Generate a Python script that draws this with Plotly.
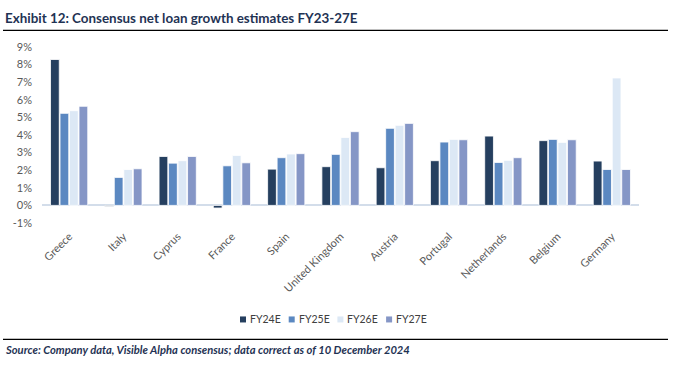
import plotly.graph_objects as go

countries = ["Greece", "Italy", "Cyprus", "France", "Spain", "United Kingdom",
             "Austria", "Portugal", "Netherlands", "Belgium", "Germany"]
fy24 = [8.29, -0.05, 2.78, -0.15, 2.06, 2.20, 2.14, 2.54, 3.94, 3.68, 2.52]
fy25 = [5.23, 1.59, 2.40, 2.25, 2.71, 2.90, 4.38, 3.60, 2.44, 3.75, 2.04]
fy26 = [5.38, 2.04, 2.54, 2.84, 2.92, 3.86, 4.55, 3.75, 2.56, 3.58, 7.24]
fy27 = [5.63, 2.08, 2.78, 2.42, 2.94, 4.19, 4.66, 3.73, 2.71, 3.73, 2.04]
series_names = ["FY24E", "FY25E", "FY26E", "FY27E"]
colors = ["#253F5F", "#5B88C1", "#DCE8F5", "#8596C6"]
y_ticks = list(range(-1, 10))

W, H = 685, 369
L, R, T, B = 42, 46, 46.7, 146.4
ph = H - T - B
pw = W - L - R

def px_y(y):
    return (H - B - y) / ph

def px_x(x):
    return (x - L) / pw

fig = go.Figure()
for name, vals, c in zip(series_names, [fy24, fy25, fy26, fy27], colors):
    fig.add_trace(go.Bar(x=countries, y=vals, name=name, showlegend=False,
                         marker=dict(color=c, line=dict(color="white", width=0.8))))

font = "Lato, Open Sans, sans-serif"

shapes = [
    dict(type="line", xref="paper", yref="paper", x0=px_x(3), x1=px_x(668),
         y0=px_y(30), y1=px_y(30), line=dict(color="black", width=1.3)),
    dict(type="line", xref="paper", yref="paper", x0=px_x(3), x1=px_x(668),
         y0=px_y(339), y1=px_y(339), line=dict(color="black", width=1.3)),
]
annotations = [
    dict(text="<b>Exhibit 12: Consensus net loan growth estimates FY23-27E</b>",
         xref="paper", yref="paper", x=px_x(3), y=px_y(18), xanchor="left", yanchor="middle",
         showarrow=False, font=dict(family=font, size=13.4, color="#1F3354")),
    dict(text="<b><i>Source: Company data, Visible Alpha consensus; data correct as of 10 December 2024</i></b>",
         xref="paper", yref="paper", x=px_x(3), y=px_y(349), xanchor="left", yanchor="middle",
         showarrow=False, font=dict(family=font, size=11.2, color="#1F3354")),
]
# manual compact legend
leg_x0, leg_pitch, leg_y = 240, 48.7, 319
for i, (name, c) in enumerate(zip(series_names, colors)):
    sx = leg_x0 + i * leg_pitch
    shapes.append(dict(type="rect", xref="paper", yref="paper",
                       x0=px_x(sx), x1=px_x(sx + 6), y0=px_y(leg_y + 3), y1=px_y(leg_y - 3),
                       fillcolor=c, line=dict(width=0)))
    annotations.append(dict(text=name, xref="paper", yref="paper", x=px_x(sx + 8), y=px_y(leg_y),
                            xanchor="left", yanchor="middle", showarrow=False,
                            font=dict(family=font, size=10.5, color="#404040")))

fig.update_layout(
    width=W, height=H,
    margin=dict(l=L, r=R, t=T, b=B, autoexpand=False),
    plot_bgcolor="white", paper_bgcolor="white",
    barmode="group", bargap=0.3, bargroupgap=0.08,
    font=dict(family=font, size=10, color="#595959"),
    showlegend=False,
    xaxis=dict(tickangle=-45, showline=False, ticks="", showgrid=False,
               ticklabelstandoff=4, tickfont=dict(size=11, color="#595959")),
    yaxis=dict(range=[-1, 9], tickvals=y_ticks, ticktext=[f"{v}%" for v in y_ticks],
               showgrid=False, zeroline=True, zerolinecolor="#D3DDEA", zerolinewidth=1.5,
               showline=False, ticks="", ticklabelstandoff=9,
               tickfont=dict(size=11, color="#595959")),
    shapes=shapes,
    annotations=annotations,
)

fig.write_html("out.html", config={"displayModeBar": False},
               post_script="document.body.style.margin='0px';document.body.style.padding='0px';")
